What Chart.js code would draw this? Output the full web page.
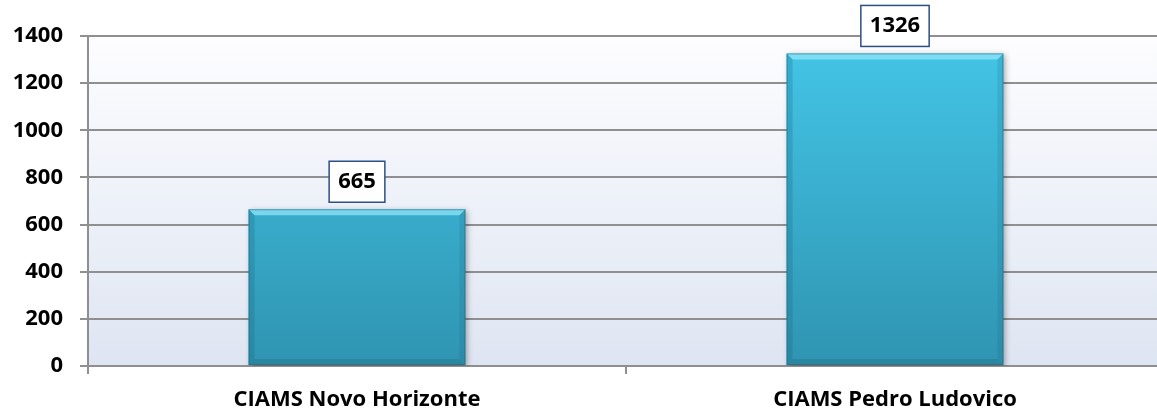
<!DOCTYPE html>
<html>
<head>
<meta charset="utf-8">
<script src="https://cdn.jsdelivr.net/npm/chart.js@4/dist/chart.umd.min.js"></script>
<style>
html,body{margin:0;padding:0;background:#fff;overflow:hidden;}
#wrap{width:1164px;height:415px;}
</style>
</head>
<body>
<div id="wrap"><canvas id="c" width="1164" height="415"></canvas></div>
<script>
const categories = ['CIAMS Novo Horizonte', 'CIAMS Pedro Ludovico'];
const values = [665, 1326];
const yMin = 0;
const yMax = 1400;
const yStep = 200;

const FONT = '"Open Sans"';
const FSIZE = 22;
const gridColor = '#8f8f8f';

const plotBg = {
  id: 'plotBg',
  beforeDraw(chart) {
    const {ctx, chartArea: a} = chart;
    if (!a) return;
    const g = ctx.createLinearGradient(0, a.top, 0, a.bottom);
    g.addColorStop(0, '#fdfdff');
    g.addColorStop(1, '#dee5f2');
    ctx.save();
    ctx.fillStyle = g;
    ctx.fillRect(a.left, a.top, a.right - a.left, a.bottom - a.top);
    ctx.restore();
  }
};

const shadowOn = {
  id: 'shadowOn',
  beforeDatasetsDraw(chart) {
    const ctx = chart.ctx;
    ctx.save();
    ctx.shadowColor = 'rgba(0,0,0,0.35)';
    ctx.shadowBlur = 6;
    ctx.shadowOffsetX = 2;
    ctx.shadowOffsetY = 2;
  },
  afterDatasetsDraw(chart) {
    chart.ctx.restore();
  }
};

const bevel = {
  id: 'bevel',
  afterDatasetsDraw(chart) {
    const ctx = chart.ctx;
    const meta = chart.getDatasetMeta(0);
    const b = 6;
    meta.data.forEach(el => {
      const l = el.x - el.width / 2, r = el.x + el.width / 2, t = el.y, bot = el.base;
      ctx.save();
      ctx.fillStyle = 'rgba(150,232,250,0.7)';
      ctx.beginPath();
      ctx.moveTo(l, t); ctx.lineTo(r, t); ctx.lineTo(r - b, t + b); ctx.lineTo(l + b, t + b); ctx.closePath(); ctx.fill();
      ctx.fillStyle = 'rgba(20,90,115,0.22)';
      ctx.beginPath();
      ctx.moveTo(l, t); ctx.lineTo(l + b, t + b); ctx.lineTo(l + b, bot - b); ctx.lineTo(l, bot); ctx.closePath(); ctx.fill();
      ctx.fillStyle = 'rgba(20,90,115,0.15)';
      ctx.beginPath();
      ctx.moveTo(r, t); ctx.lineTo(r - b, t + b); ctx.lineTo(r - b, bot - b); ctx.lineTo(r, bot); ctx.closePath(); ctx.fill();
      ctx.fillStyle = 'rgba(20,80,100,0.2)';
      ctx.beginPath();
      ctx.moveTo(l, bot); ctx.lineTo(l + b, bot - b); ctx.lineTo(r - b, bot - b); ctx.lineTo(r, bot); ctx.closePath(); ctx.fill();
      ctx.strokeStyle = 'rgba(30,100,125,0.5)';
      ctx.lineWidth = 1;
      ctx.strokeRect(l + 0.5, t + 0.5, r - l - 1, bot - t - 1);
      ctx.restore();
    });
  }
};

const valueLabels = {
  id: 'valueLabels',
  afterDatasetsDraw(chart) {
    const ctx = chart.ctx;
    const meta = chart.getDatasetMeta(0);
    ctx.save();
    ctx.font = 'bold ' + FSIZE + 'px ' + FONT;
    meta.data.forEach((el, i) => {
      const txt = String(values[i]);
      const w = ctx.measureText(txt).width + 18;
      const h = 41;
      const x = el.x - w / 2;
      const y = el.y - 7 - h;
      ctx.fillStyle = '#ffffff';
      ctx.fillRect(x, y, w, h);
      ctx.strokeStyle = '#2c4f85';
      ctx.lineWidth = 1.5;
      ctx.strokeRect(x, y, w, h);
      ctx.fillStyle = '#000';
      ctx.textAlign = 'center';
      ctx.textBaseline = 'middle';
      ctx.fillText(txt, el.x, y + h / 2);
    });
    ctx.restore();
  }
};

new Chart(document.getElementById('c'), {
  type: 'bar',
  data: {
    labels: categories,
    datasets: [{
      data: values,
      backgroundColor(context) {
        const a = context.chart.chartArea;
        if (!a) return '#3bb8da';
        const g = context.chart.ctx.createLinearGradient(0, a.top, 0, a.bottom);
        g.addColorStop(0, '#44c6e8');
        g.addColorStop(1, '#2f94b1');
        return g;
      },
      borderWidth: 0,
      barPercentage: 0.403,
      categoryPercentage: 1
    }]
  },
  options: {
    responsive: false,
    animation: false,
    devicePixelRatio: 1,
    layout: {padding: {top: 36, right: 0, bottom: 0, left: 0}},
    plugins: {legend: {display: false}, tooltip: {enabled: false}},
    scales: {
      y: {
        min: yMin, max: yMax,
        ticks: {stepSize: yStep, color: '#000', padding: 17, font: {family: FONT, weight: 'bold', size: FSIZE},
                callback: v => String(v)},
        grid: {color: gridColor, lineWidth: 2, tickLength: 8, drawTicks: true},
        border: {color: gridColor, width: 2},
        afterFit(s) { s.width = 88; }
      },
      x: {
        ticks: {color: '#000', padding: 13, font: {family: FONT, weight: 'bold', size: FSIZE}},
        grid: {drawOnChartArea: false, color: gridColor, lineWidth: 2, tickLength: 8},
        border: {color: gridColor, width: 2},
        afterFit(s) { s.height = 49; }
      }
    }
  },
  plugins: [plotBg, shadowOn, bevel, valueLabels]
});
</script>
</body>
</html>
